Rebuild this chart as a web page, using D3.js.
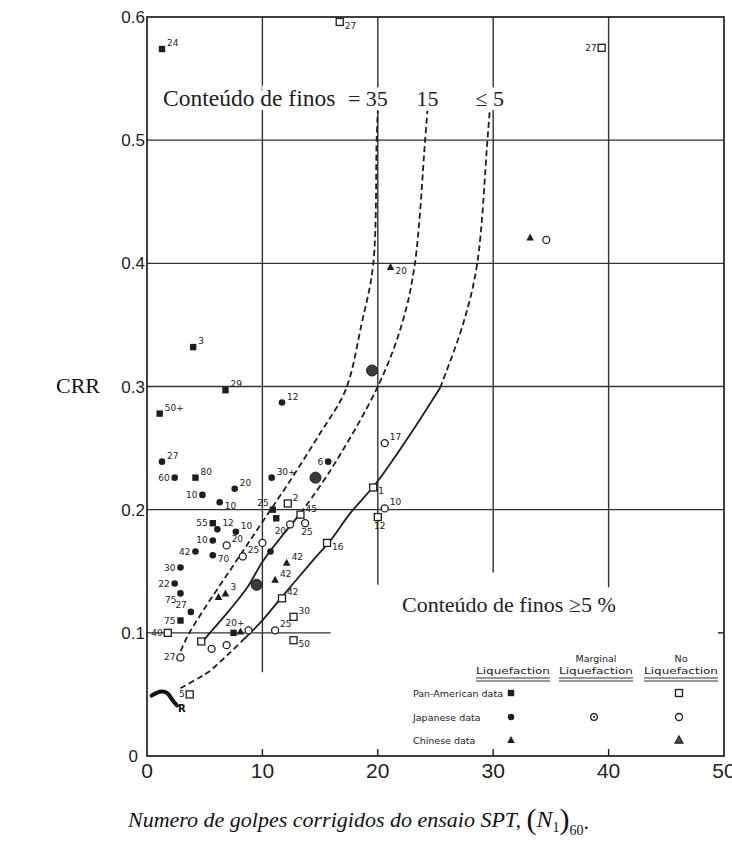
<!DOCTYPE html>
<html>
<head>
<meta charset="utf-8">
<script src="https://cdn.jsdelivr.net/npm/d3@7/dist/d3.min.js"></script>
<style>
  body { margin: 0; background: #fff; }
  svg { display: block; }
</style>
</head>
<body>
<svg id="chart" width="732" height="854"></svg>
<script>
// ---- axes ----
const xTicks = [0, 10, 20, 30, 40, 50];
const yTicks = [0, 0.1, 0.2, 0.3, 0.4, 0.5, 0.6];

// grid lines: [value, from, to] (vertical ones run in CRR, horizontal ones in N)
const vGrid = [[10, 0.068, 0.6], [20, 0.139, 0.6], [30, 0.149, 0.6], [40, 0.137, 0.6]];
const hGrid = [[0.1, 0, 15.9], [0.2, 0, 50], [0.3, 0, 50], [0.4, 0, 50], [0.5, 0, 50]];

// ---- boundary curves, [(N1)60, CRR] ----
const curve35 = [[2.6,0.078],[3.5,0.097],[5,0.12],[7.5,0.155],[10,0.19],[12.5,0.225],
                 [15,0.262],[17.2,0.297],[18.6,0.351],[19.6,0.399],[19.9,0.5],[20,0.524]];
const curve15Upper = [[13.3,0.197],[15.9,0.232],[20.0,0.300],[22.1,0.351],[23.2,0.399],[24.1,0.5],[24.3,0.524]];
const curve15Lower = [[4.9,0.094],[7.2,0.119],[8.7,0.137],[10.1,0.159],[13.3,0.197]];
const curve5Upper = [[25.4,0.299],[27.4,0.351],[28.6,0.399],[29.5,0.5],[29.7,0.524]];
const curve5Mid = [[8.3,0.094],[9.8,0.108],[11.5,0.127],[14.4,0.159],[15.9,0.175],[17.6,0.197],
                   [19.9,0.222],[22.8,0.261],[25.4,0.299]];
const curve5Lower = [[2.9,0.055],[4.6,0.064],[5.3,0.068],[7.2,0.084],[8.3,0.094]];
const curveLabels = ["= 35", "15", "\u2264 5"];

// hand-inked stroke near the origin
const inkTrace = [[0.4,0.049],[1.1,0.053],[1.8,0.052],[2.2,0.045],[2.6,0.041]];

// ---- case histories: [(N1)60, CRR, label, label side] ----
const panLiq = [
  [1.3,0.574,"24"], [4.0,0.332,"3"], [6.8,0.297,"29"], [1.1,0.278,"50+"],
  [4.2,0.226,"80"], [5.7,0.189,"55","l"], [10.9,0.200,"25","tl"], [11.2,0.193,""],
  [2.9,0.110,"75","l"], [7.5,0.100,""]
];
const panNoLiq = [
  [16.7,0.596,"27","sub"], [39.4,0.575,"27","l"], [12.2,0.205,"2"], [13.3,0.196,"45"],
  [15.6,0.173,"16","sub"], [19.6,0.218,"1","sub"], [20.0,0.194,"12","b"], [11.7,0.128,"42"],
  [12.7,0.113,"30"], [12.7,0.094,"50","sub"], [4.7,0.093,""], [3.7,0.050,"5","l"],
  [1.8,0.100,"40","l"]
];
const japLiq = [
  [11.7,0.287,"12"], [1.3,0.239,"27"], [2.4,0.226,"60","l"], [7.6,0.217,"20"],
  [4.8,0.212,"10","l"], [6.3,0.206,"10","sub"], [10.8,0.226,"30+"], [15.7,0.239,"6","l"],
  [6.1,0.184,"12"], [7.7,0.182,"10"], [5.7,0.175,"10","l"], [5.7,0.163,"70","sub"],
  [4.2,0.166,"42","l"], [2.9,0.153,"30","l"], [2.4,0.140,"22","l"], [2.9,0.132,"75","bl"],
  [3.8,0.117,"27","tl"], [10.7,0.166,""]
];
const japLiqLarge = [[14.6,0.226], [19.5,0.313], [9.5,0.139]];
const japNoLiq = [
  [20.6,0.254,"17"], [20.6,0.201,"10"], [12.4,0.188,"20","bl"], [13.7,0.189,"25","b"],
  [6.9,0.171,"20"], [8.3,0.162,"25"], [10.0,0.173,""], [5.6,0.087,""], [6.9,0.090,""],
  [8.8,0.102,"20+","tl"], [11.1,0.102,"25"], [2.9,0.080,"27","l"], [34.6,0.419,""]
];
const chinaLiq = [
  [21.1,0.397,"20","sub"], [12.1,0.157,"42"], [11.1,0.143,"42"], [6.8,0.132,"3"],
  [6.2,0.129,""], [8.1,0.101,""], [33.2,0.421,""]
];

// ---- legend ----
const legendRows = ["Pan-American data", "Japanese data", "Chinese data"];
const legendCols = [["", "Liquefaction"], ["Marginal", "Liquefaction"], ["No", "Liquefaction"]];
// symbol shown for each row/column ("" = none)
const legendSymbols = [
  ["sqFill", "", "sqOpen"],
  ["cirFill", "cirMarg", "cirOpen"],
  ["triFill", "", "triOpen"]
];

const ink = "#1e1e1e";
const svg = d3.select("#chart");
const x = d3.scaleLinear().domain([0, 50]).range([147, 724]);
const y = d3.scaleLinear().domain([0, 0.6]).range([756, 17]);

// grid
const grid = svg.append("g").attr("stroke", "#333").attr("stroke-width", 1.4);
grid.selectAll(".v").data(vGrid).join("line")
  .attr("x1", d => x(d[0])).attr("x2", d => x(d[0]))
  .attr("y1", d => y(d[1])).attr("y2", d => y(d[2]));
grid.selectAll(".h").data(hGrid).join("line")
  .attr("y1", d => y(d[0])).attr("y2", d => y(d[0]))
  .attr("x1", d => x(d[1])).attr("x2", d => x(d[2]));

// frame
svg.append("rect")
  .attr("x", x(0)).attr("y", y(0.6))
  .attr("width", x(50) - x(0)).attr("height", y(0) - y(0.6))
  .attr("fill", "none").attr("stroke", ink).attr("stroke-width", 1.7);

// bottom ticks and right-hand 0.1 tick
svg.append("g").selectAll("line").data(xTicks.slice(1, -1)).join("line")
  .attr("x1", d => x(d)).attr("x2", d => x(d))
  .attr("y1", y(0)).attr("y2", y(0) - 7)
  .attr("stroke", ink).attr("stroke-width", 1.4);
svg.append("line")
  .attr("x1", x(50)).attr("x2", x(50) - 6)
  .attr("y1", y(0.1)).attr("y2", y(0.1))
  .attr("stroke", ink).attr("stroke-width", 1.4);

// tick labels
svg.append("g").selectAll("text").data(xTicks).join("text")
  .attr("x", d => x(d)).attr("y", y(0) + 22)
  .attr("text-anchor", "middle")
  .attr("font-family", "Liberation Sans, Arial, sans-serif").attr("font-size", 21)
  .attr("fill", "#222")
  .text(d => d);
svg.append("g").selectAll("text").data(yTicks).join("text")
  .attr("x", d => d === 0 ? x(0) - 9 : x(0) - 2).attr("y", d => y(d) + 6)
  .attr("text-anchor", "end")
  .attr("font-family", "Liberation Sans, Arial, sans-serif").attr("font-size", 17)
  .attr("fill", "#222")
  .text(d => d === 0 ? "0" : d.toFixed(1));

// curves
const line = d3.line().x(d => x(d[0])).y(d => y(d[1])).curve(d3.curveCatmullRom.alpha(0.5));
const curves = svg.append("g").attr("fill", "none").attr("stroke", ink).attr("stroke-width", 1.8);
[[curve35, true], [curve15Upper, true], [curve15Lower, false],
 [curve5Upper, true], [curve5Mid, false], [curve5Lower, true]].forEach(([pts, dashed]) => {
  curves.append("path").attr("d", line(pts))
    .attr("stroke-dasharray", dashed ? "6,3.5" : null);
});
svg.append("path").attr("d", d3.line().x(d => x(d[0])).y(d => y(d[1])).curve(d3.curveBasis)(inkTrace))
  .attr("fill", "none").attr("stroke", "#111").attr("stroke-width", 4).attr("stroke-linecap", "round");

// annotations
const serif = "Liberation Serif, Times New Roman, serif";
const halo = sel => sel.attr("stroke", "#fff").attr("stroke-width", 9).attr("paint-order", "stroke");
svg.append("text").attr("x", 163).attr("y", 106)
  .attr("font-family", serif).attr("font-size", 23.5).attr("fill", "#222")
  .call(halo).text("Conteúdo de finos");
[curve35, curve15Upper, curve5Upper].forEach((c, i) => {
  const top = c[c.length - 1];
  svg.append("text")
    .attr("x", x(top[0]) + (i === 0 ? 10 : 0)).attr("y", 106)
    .attr("text-anchor", i === 0 ? "end" : "middle")
    .attr("font-family", serif).attr("font-size", 22).attr("fill", "#222")
    .call(halo).text(curveLabels[i]);
});
svg.append("text").attr("x", 402).attr("y", 612)
  .attr("font-family", serif).attr("font-size", 22).attr("fill", "#222")
  .text("Conteúdo de finos \u22655 %");

// symbols
function drawSymbol(g, kind, cx, cy) {
  switch (kind) {
    case "sqFill": g.append("rect").attr("x", cx - 3.2).attr("y", cy - 3.2).attr("width", 6.4).attr("height", 6.4).attr("fill", ink); break;
    case "sqOpen": g.append("rect").attr("x", cx - 3.5).attr("y", cy - 3.5).attr("width", 7).attr("height", 7).attr("fill", "#fff").attr("stroke", ink).attr("stroke-width", 1.3); break;
    case "cirFill": g.append("circle").attr("cx", cx).attr("cy", cy).attr("r", 3.3).attr("fill", ink); break;
    case "cirBig": g.append("circle").attr("cx", cx).attr("cy", cy).attr("r", 5.5).attr("fill", "#3a3a3a").attr("stroke", ink).attr("stroke-width", 1); break;
    case "cirOpen": g.append("circle").attr("cx", cx).attr("cy", cy).attr("r", 3.5).attr("fill", "#fff").attr("stroke", ink).attr("stroke-width", 1.3); break;
    case "cirMarg":
      g.append("circle").attr("cx", cx).attr("cy", cy).attr("r", 3.3).attr("fill", "#fff").attr("stroke", ink).attr("stroke-width", 1.3);
      g.append("circle").attr("cx", cx).attr("cy", cy).attr("r", 1).attr("fill", ink); break;
    case "triFill": g.append("path").attr("d", `M${cx},${cy - 4}L${cx + 3.8},${cy + 3}L${cx - 3.8},${cy + 3}Z`).attr("fill", ink); break;
    case "triOpen": g.append("path").attr("d", `M${cx},${cy - 4}L${cx + 3.8},${cy + 3}L${cx - 3.8},${cy + 3}Z`).attr("fill", "#555").attr("stroke", ink).attr("stroke-width", 1.3); break;
  }
}
function placeLabel(g, cx, cy, text, side) {
  if (!text) return;
  const off = {
    r: [5, -3, "start"], sub: [5, 7, "start"], l: [-5, 3, "end"],
    b: [2, 12, "middle"], bl: [-4, 10, "end"], tl: [-4, -4, "end"]
  }[side || "r"];
  g.append("text").attr("x", cx + off[0]).attr("y", cy + off[1])
    .attr("text-anchor", off[2])
    .attr("font-family", "DejaVu Sans, sans-serif").attr("font-size", 9)
    .attr("fill", "#222").text(text);
}
const marks = svg.append("g");
[[panLiq, "sqFill"], [panNoLiq, "sqOpen"], [japLiq, "cirFill"], [japNoLiq, "cirOpen"], [chinaLiq, "triFill"]]
  .forEach(([set, kind]) => set.forEach(d => {
    const cx = x(d[0]), cy = y(d[1]);
    drawSymbol(marks, kind, cx, cy);
    placeLabel(marks, cx, cy, d[2], d[3]);
  }));
japLiqLarge.forEach(d => drawSymbol(marks, "cirBig", x(d[0]), y(d[1])));
marks.append("text").attr("x", x(inkTrace[inkTrace.length - 1][0]) + 1).attr("y", y(inkTrace[inkTrace.length - 1][1]) + 6)
  .attr("font-family", "DejaVu Sans, sans-serif").attr("font-size", 10).attr("font-weight", "bold")
  .attr("fill", "#111").text("R");

// legend
const lg = svg.append("g").attr("font-family", "DejaVu Sans, sans-serif").attr("fill", "#222");
const colX = [511, 594, 679];
const rowY = [693, 717, 740];
legendCols.forEach((c, i) => {
  if (c[0]) lg.append("text").attr("x", colX[i] + 2).attr("y", 662).attr("text-anchor", "middle")
    .attr("font-size", 9.5).text(c[0]);
  lg.append("text").attr("x", colX[i] + 2).attr("y", 674).attr("text-anchor", "middle")
    .attr("font-size", 9.5).attr("textLength", 74).attr("lengthAdjust", "spacingAndGlyphs").text(c[1]);
  [678, 681].forEach(yy => lg.append("line")
    .attr("x1", colX[i] - 35).attr("x2", colX[i] + 39).attr("y1", yy).attr("y2", yy)
    .attr("stroke", "#333").attr("stroke-width", 1));
});
legendRows.forEach((r, j) => {
  lg.append("text").attr("x", 413).attr("y", rowY[j] + 4).attr("font-size", 9.5).text(r);
  legendSymbols[j].forEach((k, i) => { if (k) drawSymbol(lg, k, colX[i], rowY[j]); });
});

// axis titles
svg.append("text").attr("x", 100).attr("y", 393).attr("text-anchor", "end")
  .attr("font-family", serif).attr("font-size", 22).attr("fill", "#111").text("CRR");
const xt = svg.append("text").attr("x", 128).attr("y", 827)
  .attr("font-family", serif).attr("font-size", 22).attr("font-style", "italic").attr("fill", "#111");
xt.append("tspan").text("Numero de golpes corrigidos do ensaio SPT, ");
xt.append("tspan").attr("font-style", "normal").attr("font-size", 30).attr("dy", 2).text("(");
xt.append("tspan").attr("font-size", 24).attr("dy", -2).text("N");
xt.append("tspan").attr("font-style", "normal").attr("font-size", 14).attr("dy", 5).text("1");
xt.append("tspan").attr("font-style", "normal").attr("font-size", 30).attr("dy", -3).text(")");
xt.append("tspan").attr("font-style", "normal").attr("font-size", 14).attr("dy", 6).text("60");
xt.append("tspan").attr("font-style", "normal").attr("dy", -6).text(".");
</script>
</body>
</html>
